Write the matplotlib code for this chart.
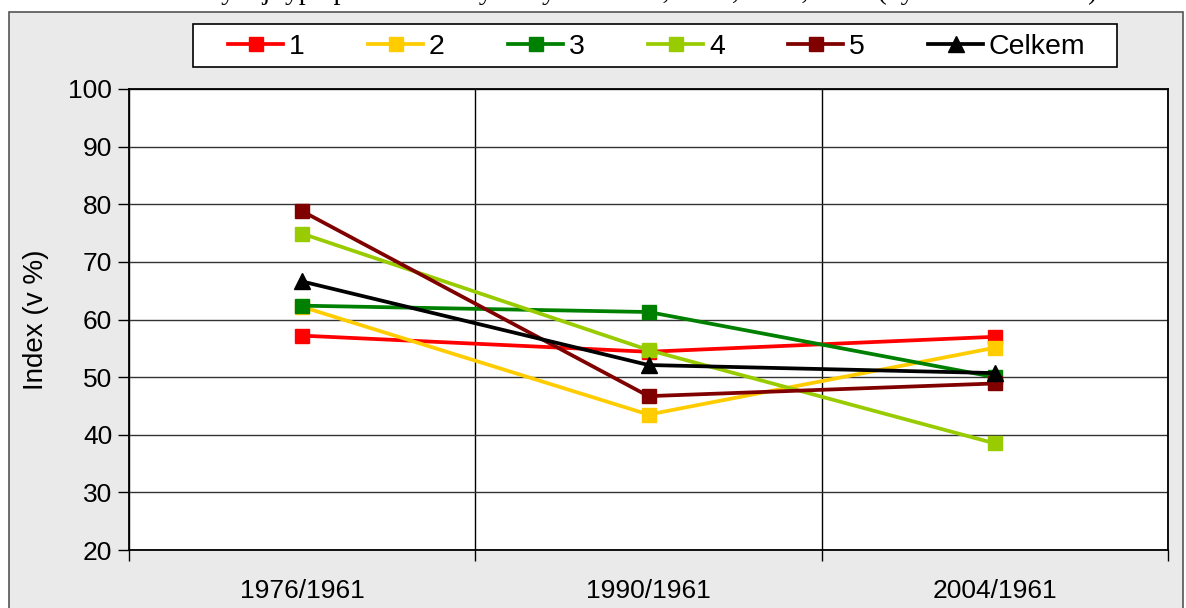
import matplotlib.pyplot as plt
from matplotlib.patches import Rectangle

categories = ["1976/1961", "1990/1961", "2004/1961"]
s1 = [57.2, 54.4, 57.0]
s2 = [62.2, 43.5, 55.1]
s3 = [62.4, 61.3, 50.0]
s4 = [74.9, 54.7, 38.5]
s5 = [78.8, 46.7, 48.9]
celkem = [66.6, 52.1, 50.7]

names = ["1", "2", "3", "4", "5", "Celkem"]
colors = ["#FF0000", "#FFCC00", "#008000", "#99CC00", "#800000", "#000000"]

plt.rcParams['font.family'] = ['Liberation Sans', 'DejaVu Sans']

W, H = 1186, 608
fig = plt.figure(figsize=(W / 100, H / 100), dpi=100)
fig.patch.set_facecolor("white")

# grey chart frame
fig.patches.append(Rectangle((9 / W, -0.1), (1183 - 9) / W, 1.1 - 12 / H,
                             transform=fig.transFigure, facecolor="#EAEAEA",
                             edgecolor="#555555", lw=1.2, zorder=-5))

# cut-off caption at the very top
fig.text(0.52, 1 + 8 / H, "Graf: Vývoj typu podniků ve vybraných obcích, 1976, 1990, 2004 (vybrané ukazatele)",
         family=['Liberation Serif'], fontsize=20, ha="center", va="center")

ax = fig.add_axes([129 / W, 1 - 550 / H, (1168 - 129) / W, (550 - 89) / H])
ax.set_facecolor("white")

x = list(range(len(categories)))
series = [s1, s2, s3, s4, s5, celkem]
for vals, name, c in zip(series, names, colors):
    m = "^" if name == "Celkem" else "s"
    ax.plot(x, vals, color=c, lw=2.7, marker=m, markersize=10 if m == "s" else 11,
            markeredgecolor=c, markerfacecolor=c, label=name, zorder=3)

ax.set_xlim(-0.5, 2.5)
ax.set_ylim(20, 100)
ax.set_yticks(range(20, 101, 10))
ax.set_xticks(x)
ax.set_xticklabels(categories)
ax.set_xticks([-0.5, 0.5, 1.5, 2.5], minor=True)
ax.tick_params(axis="x", which="major", length=0, pad=21, labelsize=19)
ax.tick_params(axis="x", which="minor", length=8, width=1, color="black")
ax.tick_params(axis="y", length=8, width=1, labelsize=19, pad=4)
ax.grid(axis="y", color="#333333", lw=1)
ax.grid(axis="x", which="minor", color="black", lw=1)
ax.set_axisbelow(True)
for sp in ax.spines.values():
    sp.set_color("black")
    sp.set_linewidth(1.3)
ax.set_ylabel("Index (v %)", fontsize=20, labelpad=14)

# legend box
fig.patches.append(Rectangle((193 / W, 1 - 67 / H), (1117 - 193) / W, 43 / H,
                             transform=fig.transFigure, facecolor="white",
                             edgecolor="black", lw=1.2, zorder=1))
leg = fig.legend(loc="center", ncol=6, bbox_to_anchor=(657 / W, 1 - 47 / H),
                 fontsize=20.5, frameon=False, handlelength=1.93,
                 handletextpad=0.2, borderaxespad=0, borderpad=0, columnspacing=2.23)
leg.set_zorder(2)

fig.savefig("out.png", dpi=100)
